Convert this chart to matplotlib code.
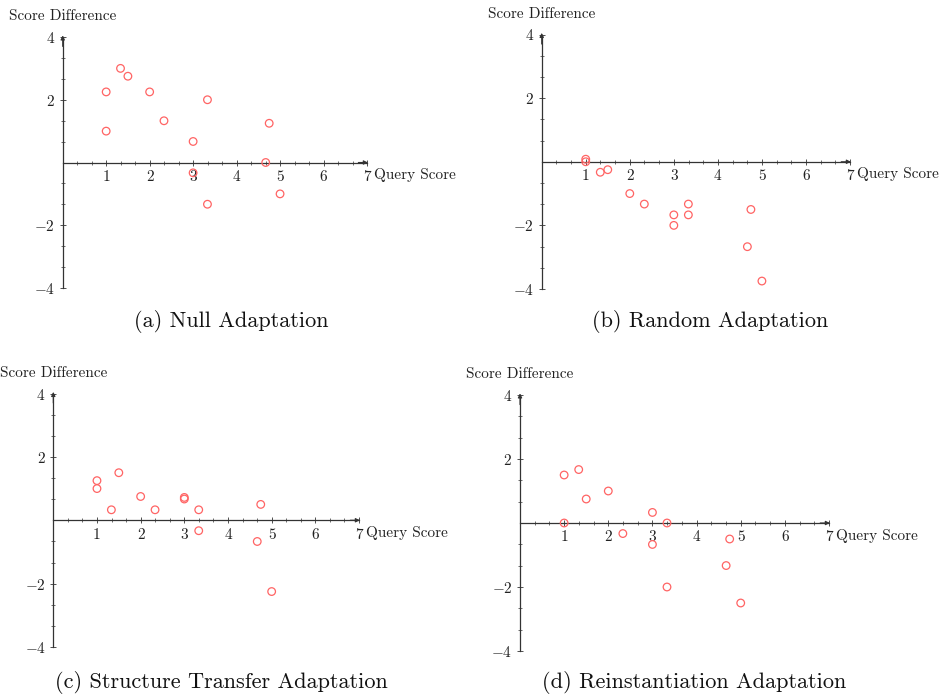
import matplotlib
matplotlib.use('Agg')
import matplotlib.pyplot as plt

plt.rcParams['font.family'] = 'cmr10'
plt.rcParams['mathtext.fontset'] = 'cm'
plt.rcParams['axes.formatter.use_mathtext'] = True

# query score (x) and score difference (y) for each adaptation
null_x = [1, 1, 1.33, 1.5, 2, 2.33, 3, 3, 3.33, 3.33, 4.67, 4.75, 5]
null_y = [2.25, 1.0, 3.0, 2.75, 2.25, 1.33, 0.67, -0.33, 2.0, -1.33, 0.0, 1.25, -1.0]

random_x = [1, 1, 1.33, 1.5, 2, 2.33, 3, 3, 3.33, 3.33, 4.67, 4.75, 5]
random_y = [0.08, 0.0, -0.33, -0.25, -1.0, -1.33, -1.67, -2.0, -1.33, -1.67, -2.67, -1.5, -3.75]

struct_x = [1, 1, 1.33, 1.5, 2, 2.33, 3, 3, 3.33, 3.33, 4.67, 4.75, 5]
struct_y = [1.25, 1.0, 0.33, 1.5, 0.75, 0.33, 0.72, 0.67, 0.33, -0.33, -0.67, 0.5, -2.25]

reinst_x = [1, 1, 1.33, 1.5, 2, 2.33, 3, 3, 3.33, 3.33, 4.67, 4.75, 5]
reinst_y = [1.5, 0.0, 1.67, 0.75, 1.0, -0.33, 0.33, -0.67, 0.0, -2.0, -1.33, -0.5, -2.5]

x_ticks = [1, 2, 3, 4, 5, 6, 7]
y_ticks = [-4, -2, 2, 4]

W, H = 944, 694

# (x at 0, x at 7, y at 4, y at -4) in pixels, caption centre x, caption y
PANELS = [
    (null_x, null_y, '(a) Null Adaptation', (62.7, 367, 37, 288), 231, 322),
    (random_x, random_y, '(b) Random Adaptation', (541.7, 850, 34.5, 289), 710, 322),
    (struct_x, struct_y, '(c) Structure Transfer Adaptation', (53.3, 359, 393.5, 647), 221, 683),
    (reinst_x, reinst_y, '(d) Reinstantiation Adaptation', (520, 829, 395, 651), 694, 683),
]

AXIS_COLOR = '#333333'
MARK_COLOR = '#ff6464'

fig = plt.figure(figsize=(W / 100, H / 100), dpi=100)

for xs, ys, caption, (px0, px7, py4, pym4), cx, cy in PANELS:
    ax = fig.add_axes([px0 / W, 1 - pym4 / H, (px7 - px0) / W, (pym4 - py4) / H])
    ax.set_xlim(0, 7)
    ax.set_ylim(-4, 4)
    ax.patch.set_alpha(0)

    for s in ['top', 'right']:
        ax.spines[s].set_visible(False)
    ax.spines['bottom'].set_position(('data', 0))
    ax.spines['left'].set_position(('data', 0))
    for s in ['bottom', 'left']:
        ax.spines[s].set_color(AXIS_COLOR)
        ax.spines[s].set_linewidth(0.9)

    ax.set_xticks(x_ticks)
    ax.set_xticklabels([str(t) for t in x_ticks])
    ax.set_xticks([i / 3 for i in range(21) if i % 3], minor=True)
    ax.set_yticks(y_ticks)
    ax.set_yticklabels([f'${t}$' for t in y_ticks])
    ax.set_yticks([-10 / 3, -8 / 3, -4 / 3, -2 / 3, 2 / 3, 4 / 3, 8 / 3, 10 / 3], minor=True)
    ax.tick_params(which='major', direction='inout', length=5, width=0.6,
                   color=AXIS_COLOR, labelsize=11, labelcolor='#222222', pad=3)
    ax.tick_params(which='minor', direction='inout', length=3.5, width=0.5,
                   color=AXIS_COLOR)

    # arrow heads
    ax.annotate('', xy=(7.02, 0), xytext=(6.8, 0),
                arrowprops=dict(arrowstyle='-|>', color=AXIS_COLOR, lw=0.8,
                                mutation_scale=6, shrinkA=0, shrinkB=0),
                annotation_clip=False)
    ax.annotate('', xy=(0, 4.05), xytext=(0, 3.7),
                arrowprops=dict(arrowstyle='-|>', color=AXIS_COLOR, lw=0.8,
                                mutation_scale=6, shrinkA=0, shrinkB=0),
                annotation_clip=False)

    ax.scatter(xs, ys, s=30, facecolors='none', edgecolors=MARK_COLOR,
               linewidths=0.9, zorder=3, clip_on=False)

    ax.annotate('Query Score', xy=(7, 0), xytext=(5, -4), textcoords='offset points',
                ha='left', va='top', fontsize=11, color='#222222',
                annotation_clip=False)
    ax.annotate('Score Difference', xy=(0, 4), xytext=(0, 10), textcoords='offset points',
                ha='center', va='bottom', fontsize=11, color='#222222',
                annotation_clip=False)

    fig.text(cx / W, 1 - cy / H, caption, ha='center', va='center',
             fontsize=16, color='#111111')

plt.savefig('out.png', dpi=100)
plt.close()
